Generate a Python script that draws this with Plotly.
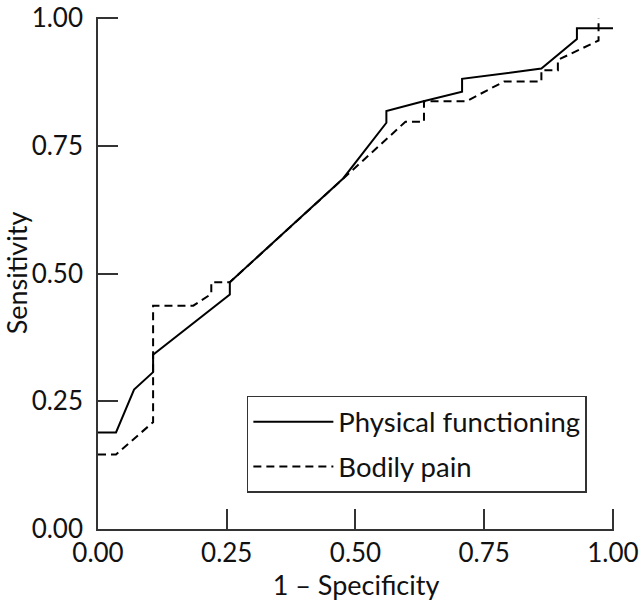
import plotly.graph_objects as go

# Physical functioning ROC curve (1 - specificity, sensitivity)
pf_x = [0.0, 0.035, 0.070, 0.107, 0.107, 0.256, 0.256, 0.476, 0.560, 0.560,
        0.632, 0.707, 0.707, 0.861, 0.930, 0.930, 1.0]
pf_y = [0.189, 0.189, 0.273, 0.307, 0.341, 0.459, 0.483, 0.686, 0.795, 0.818,
        0.837, 0.856, 0.881, 0.901, 0.959, 0.980, 0.980]

# Bodily pain ROC curve
bp_x = [0.0, 0.035, 0.107, 0.107, 0.185, 0.220, 0.220, 0.256, 0.470, 0.597,
        0.633, 0.633, 0.715, 0.789, 0.861, 0.861, 0.893, 0.893, 0.972, 0.972]
bp_y = [0.146, 0.146, 0.209, 0.437, 0.437, 0.460, 0.483, 0.483, 0.680, 0.797,
        0.797, 0.837, 0.837, 0.876, 0.876, 0.898, 0.898, 0.918, 0.956, 1.0]

tick_vals = [0.0, 0.25, 0.5, 0.75, 1.0]
tick_text = ["0.00", "0.25", "0.50", "0.75", "1.00"]

FONT = "Lato, 'DejaVu Sans', sans-serif"

fig = go.Figure()
fig.add_trace(go.Scatter(
    x=pf_x, y=pf_y, mode="lines", name="Physical functioning",
    legendgroup="a",
    line=dict(color="black", width=2),
))
fig.add_trace(go.Scatter(
    x=bp_x, y=bp_y, mode="lines", name="Bodily pain",
    legendgroup="b",
    line=dict(color="black", width=2, dash="8px,5px"),
))

axis_common = dict(
    range=[0, 1.002],
    tickvals=tick_vals,
    ticktext=tick_text,
    ticks="inside",
    ticklen=20,
    tickwidth=1.5,
    tickcolor="#333",
    showline=True,
    linecolor="#333",
    linewidth=1.5,
    showgrid=False,
    zeroline=False,
    automargin=False,
    ticklabeloverflow="allow",
    tickfont=dict(family=FONT, size=26, color="#111"),
    title_font=dict(family=FONT, size=27, color="#111"),
    fixedrange=True,
)

fig.update_layout(
    width=640, height=605,
    margin=dict(l=98, r=26, t=17, b=76),
    paper_bgcolor="white",
    plot_bgcolor="white",
    xaxis=dict(axis_common, ticklabelstandoff=0,
               title=dict(text="1 – Specificity", standoff=0)),
    yaxis=dict(axis_common, ticklabelstandoff=8,
               title=dict(text="Sensitivity", standoff=14)),
    showlegend=True,
    legend=dict(
        x=0.2885, y=0.26, xanchor="left", yanchor="top",
        bordercolor="#333", borderwidth=1.5,
        bgcolor="white",
        font=dict(family=FONT, size=27.5, color="#111"),
        traceorder="grouped",
        tracegroupgap=6,
        itemwidth=80,
    ),
)

fig.write_html("out.html", config={"displayModeBar": False},
               post_script="document.body.style.margin='0';")
